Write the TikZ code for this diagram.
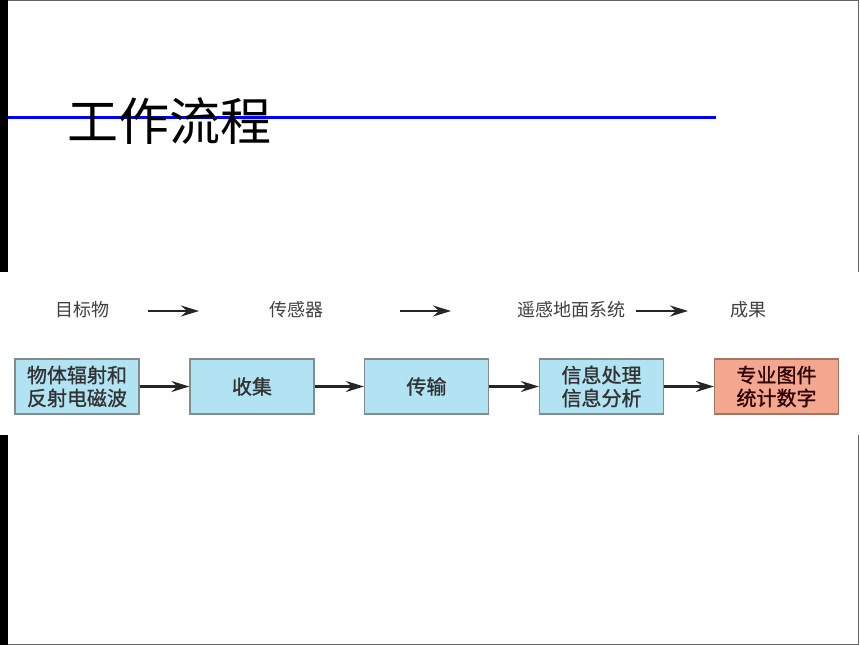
\documentclass[tikz,border=0pt]{standalone}
\usepackage{fontspec}
\newfontfamily\cjk{Noto Sans CJK SC}
\newfontfamily\cjkb[FakeBold=1.2]{Noto Sans CJK SC}
\usetikzlibrary{arrows.meta}
\definecolor{boxblue}{HTML}{B2E3F2}
\definecolor{boxred}{HTML}{F4A78F}
\definecolor{boxline}{HTML}{7F8C90}
\definecolor{redline}{HTML}{A27464}
\begin{document}
\begin{tikzpicture}[x=1pt,y=-1pt,
  box/.style={draw=boxline, line width=1.2pt, fill=boxblue, minimum width=124pt, minimum height=55pt, inner sep=0pt, align=center, font=\cjkb\fontsize{20}{23}\selectfont, text=black!80},
  lbl/.style={font=\cjk\fontsize{18}{20}\selectfont, text=black!75},
  arr/.style={line width=2.6pt, black!85, -{Stealth[length=18pt,width=11pt,inset=6pt]}}]
\useasboundingbox (0,0) rectangle (860,645);
\fill[white] (0,0) rectangle (860,645);
\draw[black!60, line width=1pt] (0.5,0.5) rectangle (858.5,644.5);
\fill[black] (0,0) rectangle (8,272);
\fill[black] (0,435) rectangle (8,645);
\fill[white] (0,272) rectangle (860,435);
% title
\draw[blue, line width=3pt] (8,117) -- (716,117);
\node[anchor=west, font=\cjk\fontsize{51}{51}\selectfont, inner sep=0pt] (title) at (67,121) {工作流程};
% top row
\node[lbl] (obj) at (82,310) {目标物};
\node[lbl] (sens) at (296,310) {传感器};
\node[lbl] (grnd) at (571,310) {遥感地面系统};
\node[lbl] (res) at (748,310) {成果};
\coordinate (a1s) at (148,311);
\coordinate (a1e) at (199,311);
\coordinate (a2s) at (400,311);
\coordinate (a2e) at (451,311);
\coordinate (a3s) at (636,311);
\coordinate (a3e) at (688,311);
\draw[arr](a1s) -- (a1e);
\draw[arr](a2s) -- (a2e);
\draw[arr](a3s) -- (a3e);
% bottom row
\node[box] (emit) at (77,386.5) {物体辐射和\\反射电磁波};
\node[box] (coll) at (252,386.5) {收集};
\node[box] (trans) at (426.5,386.5) {传输};
\node[box] (proc) at (601.5,386.5) {信息处理\\信息分析};
\node[box, fill=boxred, draw=redline, text=black!70!red!60!black] (out) at (776.5,386.5) {专业图件\\统计数字};
\draw[arr](emit) -- (coll);
\draw[arr](coll) -- (trans);
\draw[arr](trans) -- (proc);
\draw[arr](proc) -- (out);
\end{tikzpicture}
\end{document}
